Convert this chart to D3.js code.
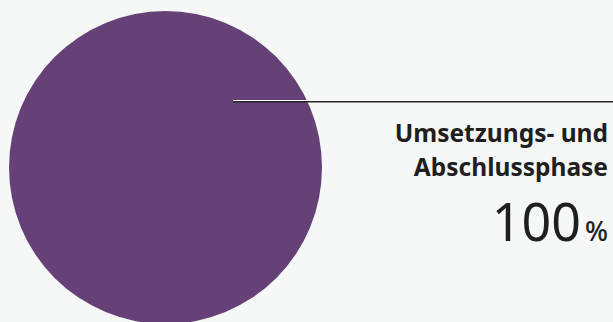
<!DOCTYPE html>
<html>
<head>
<meta charset="utf-8">
<script src="https://cdn.jsdelivr.net/npm/d3@7"></script>
<style>
  html, body { margin: 0; padding: 0; background: #f6f7f7; }
  svg { display: block; }
</style>
</head>
<body>
<svg id="chart" width="613" height="322"></svg>
<script>
// Phase shares of the project (percent)
const phases = ["Umsetzungs- und Abschlussphase"];
const labelLines = [["Umsetzungs- und", "Abschlussphase"]];
const shares = [100];
const colors = ["#664178"];

const width = 613, height = 322;
const svg = d3.select("#chart");

const cx = 165.5, cy = 167.5, radius = 156.5;

const pie = d3.pie().sort(null).value(d => d.value);
const arcs = pie(phases.map((p, i) => ({ name: p, value: shares[i], color: colors[i], lines: labelLines[i] })));
const arc = d3.arc().innerRadius(0).outerRadius(radius);

const g = svg.append("g").attr("transform", `translate(${cx},${cy})`);
g.selectAll("path.slice")
  .data(arcs)
  .join("path")
  .attr("class", "slice")
  .attr("d", arc)
  .attr("fill", d => d.data.color);

// Leader line from inside the slice out to the right edge
const lineY = 101.5 - cy;
const lineStartX = 233 - cx;
const lineEndX = width - cx;
const leader = d3.line();
arcs.forEach(d => {
  g.append("path")
    .attr("d", leader([[lineStartX, lineY - 1], [lineEndX, lineY - 1]]))
    .attr("stroke", "#ffffff").attr("stroke-width", 1).attr("fill", "none");
  g.append("path")
    .attr("d", leader([[lineStartX, lineY + 0.2], [lineEndX, lineY + 0.2]]))
    .attr("stroke", "#262626").attr("stroke-width", 1.6).attr("fill", "none");
});

// Label block, right aligned
const labelX = 608;
const label = svg.append("g").attr("font-family", "'Noto Sans', sans-serif").attr("fill", "#1f1f1f");
arcs.forEach(d => {
  d.data.lines.forEach((t, i) => {
    label.append("text")
      .attr("x", labelX).attr("y", 142 + i * 33.5)
      .attr("text-anchor", "end")
      .attr("font-weight", "bold")
      .attr("font-size", 24.5)
      .text(t);
  });
  const val = label.append("text")
    .attr("x", labelX).attr("y", 240.5)
    .attr("text-anchor", "end");
  val.append("tspan").attr("font-size", 52).attr("font-weight", 400).text(d3.format("d")(d.data.value));
  val.append("tspan").attr("font-size", 27).attr("font-weight", 500).attr("dx", 4).text("%");
});
</script>
</body>
</html>
